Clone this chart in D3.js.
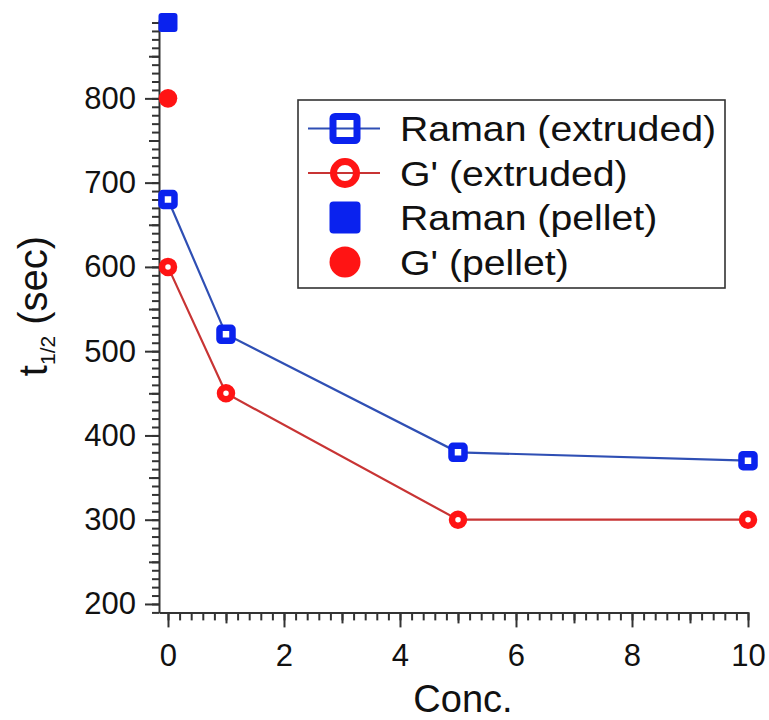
<!DOCTYPE html>
<meta charset="utf-8">
<head>
    <title>t1/2 vs Conc.</title>
    <script src="https://d3js.org/d3.v7.min.js"></script>
</head>

<style>
body { margin: 0; background: #fff; }
svg { font-family: "Liberation Sans", Arial, sans-serif; }
.axis path, .axis line { stroke: #333; stroke-width: 2; }
.axis text { fill: #111; font-size: 31px; font-family: "Liberation Sans", Arial, sans-serif; }
</style>

<body>

<svg></svg>

<script>

// data
let conc = [0, 1, 5, 10];
let ramanExtruded = [680, 520, 380, 370];
let gExtruded = [600, 450, 300, 300];
let pelletConc = [0];
let ramanPellet = [890];
let gPellet = [800];

let xTicks = [0, 2, 4, 6, 8, 10];
let yTicks = [200, 300, 400, 500, 600, 700, 800];

let blue = "#0a22ee", red = "#ff1414";
let blueLine = "#2f4fb4", redLine = "#c83434";

let width = 769, height = 720;

let svg = d3.select("svg")
    .attr("width", width)
    .attr("height", height);

// set the ranges
let x = d3.scaleLinear().domain([-0.155, 10]).range([159, 748]);
let y = d3.scaleLinear().domain([190, 893]).range([612.4, 20]);

// minor / medium tick values
let xMinor = d3.range(0, 10.001, 0.2).map(d => +d.toFixed(1));
let xMid = [1, 3, 5, 7, 9];
let yMinor = d3.range(190, 891, 10);
let yMid = d3.range(250, 851, 100);

// y axis
svg.append("g").attr("class", "axis")
  .attr("transform", "translate(159,0)")
  .call(d3.axisLeft(y).tickValues(yMinor).tickSize(7).tickFormat(""))
  .call(g => g.select(".domain").remove());
svg.append("g").attr("class", "axis")
  .attr("transform", "translate(159,0)")
  .call(d3.axisLeft(y).tickValues(yMid).tickSize(10).tickFormat(""))
  .call(g => g.select(".domain").remove());
svg.append("g").attr("class", "axis")
  .attr("transform", "translate(159,0)")
  .call(d3.axisLeft(y).tickValues(yTicks).tickSize(14).tickSizeOuter(0).tickPadding(9));

// x axis
svg.append("g").attr("class", "axis")
  .attr("transform", "translate(0,612.4)")
  .call(d3.axisBottom(x).tickValues(xMinor).tickSize(8).tickFormat(""))
  .call(g => g.select(".domain").remove());
svg.append("g").attr("class", "axis")
  .attr("transform", "translate(0,612.4)")
  .call(d3.axisBottom(x).tickValues(xMid).tickSize(11).tickFormat(""))
  .call(g => g.select(".domain").remove());
svg.append("g").attr("class", "axis")
  .attr("transform", "translate(0,612.4)")
  .call(d3.axisBottom(x).tickValues(xTicks).tickSize(15).tickSizeOuter(0).tickPadding(17));

// axis titles
svg.append("text")
  .attr("x", 463).attr("y", 712)
  .attr("text-anchor", "middle")
  .style("font-size", "38px")
  .attr("fill", "#111")
  .text("Conc.");

let yt = svg.append("text")
  .attr("transform", "translate(47,306) rotate(-90)")
  .attr("text-anchor", "middle")
  .style("font-size", "40px")
  .attr("fill", "#111");
yt.append("tspan").text("t");
yt.append("tspan").attr("dy", 8).style("font-size", "21px").text("1/2");
yt.append("tspan").attr("dy", -8).text(" (sec)");

// lines
let line = d3.line().x(d => x(d[0])).y(d => y(d[1]));

svg.append("path")
  .datum(d3.zip(conc, ramanExtruded))
  .attr("d", line)
  .attr("fill", "none")
  .attr("stroke", blueLine)
  .attr("stroke-width", 2.2);

svg.append("path")
  .datum(d3.zip(conc, gExtruded))
  .attr("d", line)
  .attr("fill", "none")
  .attr("stroke", redLine)
  .attr("stroke-width", 2.2);

// markers
svg.selectAll(".sq")
  .data(d3.zip(conc, ramanExtruded))
  .enter().append("rect")
  .attr("class", "sq")
  .attr("x", d => x(d[0]) - 6.5)
  .attr("y", d => y(d[1]) - 6.5)
  .attr("width", 13).attr("height", 13)
  .attr("rx", 1.5)
  .attr("fill", "#fff")
  .attr("stroke", blue)
  .attr("stroke-width", 6.5);

svg.selectAll(".ci")
  .data(d3.zip(conc, gExtruded))
  .enter().append("circle")
  .attr("class", "ci")
  .attr("cx", d => x(d[0]))
  .attr("cy", d => y(d[1]))
  .attr("r", 6)
  .attr("fill", "#fff")
  .attr("stroke", red)
  .attr("stroke-width", 6.5);

svg.selectAll(".sqf")
  .data(d3.zip(pelletConc, ramanPellet))
  .enter().append("rect")
  .attr("class", "sqf")
  .attr("x", d => x(d[0]) - 9.5)
  .attr("y", d => y(d[1]) - 9.5)
  .attr("width", 19).attr("height", 19)
  .attr("rx", 3)
  .attr("fill", blue);

svg.selectAll(".cif")
  .data(d3.zip(pelletConc, gPellet))
  .enter().append("circle")
  .attr("class", "cif")
  .attr("cx", d => x(d[0]))
  .attr("cy", d => y(d[1]))
  .attr("r", 9.3)
  .attr("fill", red);

// legend
let legendItems = [
  {label: "Raman (extruded)", type: "sq"},
  {label: "G' (extruded)", type: "ci"},
  {label: "Raman (pellet)", type: "sqf"},
  {label: "G' (pellet)", type: "cif"}
];

let legend = svg.append("g");
legend.append("rect")
  .attr("x", 298).attr("y", 100)
  .attr("width", 427).attr("height", 188)
  .attr("fill", "#fff")
  .attr("stroke", "#333")
  .attr("stroke-width", 1.6);

legendItems.forEach((d, i) => {
  let cy = 128.5 + i * 44.5;
  let g = legend.append("g").attr("transform", "translate(345," + cy + ")");
  if (d.type == "sq" || d.type == "ci") {
    g.append("line").attr("x1", -37).attr("x2", 35)
      .attr("stroke", d.type == "sq" ? blueLine : redLine).attr("stroke-width", 2.2);
  }
  if (d.type == "sq") {
    g.append("rect").attr("x", -12).attr("y", -12).attr("width", 24).attr("height", 24)
      .attr("rx", 2).attr("fill", "none").attr("stroke", blue).attr("stroke-width", 7);
  } else if (d.type == "ci") {
    g.append("circle").attr("r", 11.5).attr("fill", "none").attr("stroke", red).attr("stroke-width", 7);
  } else if (d.type == "sqf") {
    g.append("rect").attr("x", -15.5).attr("y", -16).attr("width", 31).attr("height", 32)
      .attr("rx", 4).attr("fill", blue);
  } else {
    g.append("circle").attr("r", 15.5).attr("fill", red);
  }
  // the legend lettering in the picture is a little wider than the font
  legend.append("text")
    .attr("transform", "translate(400," + (cy + 12.5) + ") scale(1.09,1)")
    .style("font-size", "36px")
    .attr("fill", "#111")
    .text(d.label);
});

</script>

</body>
